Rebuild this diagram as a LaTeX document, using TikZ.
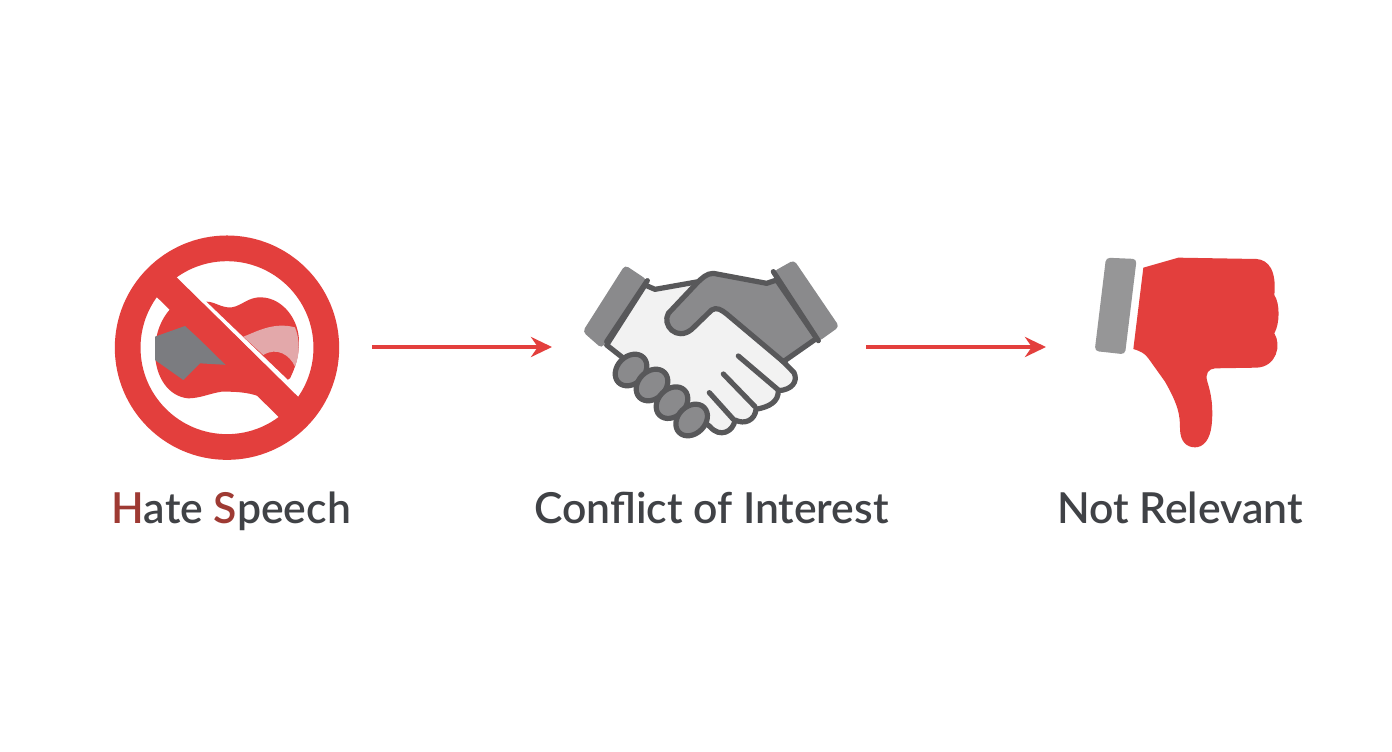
\documentclass[tikz,border=0pt]{standalone}
\usepackage{fontspec}
\setmainfont{Lato Semibold}
\usetikzlibrary{arrows.meta}
\definecolor{signred}{HTML}{E33F3D}
\definecolor{darkred}{HTML}{9E3A33}
\definecolor{labelgray}{HTML}{404246}
\definecolor{linegray}{HTML}{58585A}
\definecolor{cuffgray}{HTML}{8A8A8C}
\definecolor{palehand}{HTML}{F2F2F2}
\definecolor{slate}{HTML}{7B7C80}
\definecolor{palepink}{HTML}{E3A8AA}
\tikzset{
  flowline/.style={signred,line width=3.6pt},
  handline/.style={draw=linegray,line width=5.2pt,line join=round,line cap=round},
  label/.style={text=labelgray,anchor=base,font=\fontsize{42.7}{45}\selectfont},
}
\begin{document}
\begin{tikzpicture}[x=1pt,y=-1pt,>={Stealth[length=21pt,width=20pt]}]
\useasboundingbox[fill=white] (0,0) rectangle (1392,752);
% sign
\begin{scope}[shift={(100,220)},scale=1/3]
\fill[signred] (320,245) .. controls (345,245) and (365,265) .. (395,262) .. controls (425,258) and (445,230) .. (485,232) .. controls (550,235) and (597,300) .. (597,365) .. controls (597,410) and (585,445) .. (570,475)--(480,530) .. controls (440,515) and (400,515) .. (365,515) .. controls (330,520) and (300,535) .. (265,535) .. controls (205,530) and (165,470) .. (165,395) .. controls (165,340) and (185,295) .. (210,268)--cycle;
\fill[slate] (165,350)--(255,318)--(385,435)--(300,430)--(250,480)--(165,420)--cycle;
\fill[palepink] (430,350) .. controls (470,335) and (520,305) .. (585,322) .. controls (600,360) and (600,400) .. (585,440) .. controls (570,405) and (530,380) .. (490,405) --cycle;
\fill[white] (300,227)--(590,505)--(597,535)--(230,172)--cycle;
\draw[signred,line width=28pt] (168,170)--(594,589);
\draw[signred,line width=25.7pt] (381,383) circle (298);
\end{scope}
% handshake
\begin{scope}[shift={(570,250)},scale=1/3]
\filldraw[handline,fill=palehand] (225,105)--(255,118)--(385,95)--(640,335)--(672,368) .. controls (685,395) and (665,420) .. (625,422) .. controls (625,455) and (600,470) .. (558,478) .. controls (555,510) and (525,525) .. (495,510) .. controls (490,545) and (450,565) .. (420,530)--(110,285)--cycle;
\filldraw[handline,fill=cuffgray] (620,90)--(590,100)--(430,70) .. controls (410,70) and (395,85) .. (380,100)--(295,190) .. controls (275,225) and (320,275) .. (365,238)--(425,180) .. controls (440,170) and (455,180) .. (470,192)--(640,335)--(740,265)--cycle;
\draw[handline] (505,318)--(625,420);
\draw[handline] (460,372)--(555,470);
\draw[handline] (418,428)--(490,508);
\foreach \cx/\cy in {183/360,246/405,306/458,365/510}
  \filldraw[handline,fill=cuffgray,rotate around={45:(\cx,\cy)}] (\cx,\cy) ellipse (53 and 41);
\fill[cuffgray,rounded corners=4pt] (165,45)--(232,90)--(95,295)--(38,245)--cycle;
\fill[cuffgray,rounded corners=4pt] (610,65)--(672,30)--(808,230)--(745,275)--cycle;
\draw[handline] (232,92)--(110,275);
\draw[handline] (610,65)--(745,272);
\end{scope}
% thumb
\begin{scope}[shift={(1080,245)},scale=1/3]
\fill[cuffgray!90!white,rounded corners=4pt] (78,38)--(170,42)--(135,328)--(44,318)--cycle;
\fill[signred] (190,68)--(295,38)--(530,42) .. controls (565,45) and (590,75) .. (583,150) .. controls (600,175) and (600,235) .. (583,265) .. controls (605,300) and (590,365) .. (530,368)--(405,370) .. controls (385,372) and (375,385) .. (382,410) .. controls (395,450) and (400,490) .. (395,540) .. controls (390,585) and (370,607) .. (345,607) .. controls (320,607) and (300,590) .. (300,550) .. controls (300,510) and (295,480) .. (255,410)--(205,340) .. controls (195,325) and (180,318) .. (160,312)--cycle;
\end{scope}
% labels
\node[label] (hate) at (231,523) {\textcolor{darkred}{H}ate \textcolor{darkred}{S}peech};
\node[label] (conflict) at (711.5,523) {Conflict of Interest};
\node[label] (relevant) at (1180,523) {Not Relevant};
% arrows
\coordinate (signright) at (372,347);
\coordinate (shakeleft) at (552,347);
\coordinate (shakeright) at (866,347);
\coordinate (thumbleft) at (1046,347);
\draw[flowline,->] (signright)--(shakeleft);
\draw[flowline,->] (shakeright)--(thumbleft);
\end{tikzpicture}
\end{document}
